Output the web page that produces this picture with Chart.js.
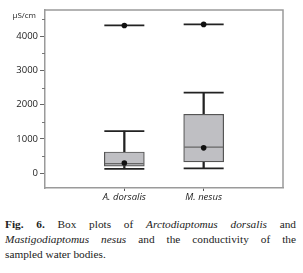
<!DOCTYPE html>
<html><head><meta charset="utf-8">
<script src="https://cdn.jsdelivr.net/npm/chart.js@4"></script>
<style>
html,body{margin:0;padding:0;background:#fff;width:303px;height:273px;overflow:hidden}
#wrap{position:absolute;left:0;top:0;width:303px;height:205px}
#cap{position:absolute;left:5px;top:217px;width:291px;font-family:"Liberation Serif","Times New Roman",serif;font-size:11.3px;line-height:15px;color:#222}
.j{text-align:justify;text-align-last:justify}
</style></head><body>
<div id="wrap"><canvas id="c" width="303" height="205"></canvas></div>
<div id="cap">
<div class="j"><b>Fig. 6.</b> Box plots of <i>Arctodiaptomus dorsalis</i> and</div>
<div class="j"><i>Mastigodiaptomus nesus</i> and the conductivity of the</div>
<div>sampled water bodies.</div>
</div>
<script>
const categories = ['A. dorsalis', 'M. nesus'];
const lowerWhisker = [130, 140];
const q1 = [210, 330];
const median = [280, 760];
const q3 = [620, 1720];
const upperWhisker = [1230, 2350];
const mean = [300, 740];
const outliers = [4310, 4340];
const yTickValues = [0, 1000, 2000, 3000, 4000];
const yMinorTicks = [500, 1500, 2500, 3500, 4500];
const yUnit = 'µS/cm';

const pos = categories.map((_, i) => i + 1);

const framePlugin = {
  id: 'frame',
  afterDraw(chart) {
    const ctx = chart.ctx, a = chart.chartArea, ys = chart.scales.y;
    ctx.save();
    ctx.strokeStyle = '#9a9a9a';
    ctx.lineWidth = 1.5;
    ctx.beginPath();
    ctx.moveTo(a.left, a.top);
    ctx.lineTo(a.right, a.top);
    ctx.lineTo(a.right, a.bottom);
    ctx.stroke();
    ctx.strokeStyle = '#777';
    ctx.lineWidth = 1;
    yMinorTicks.forEach(v => {
      const y = Math.round(ys.getPixelForValue(v)) + 0.5;
      ctx.beginPath();
      ctx.moveTo(a.left - 3, y);
      ctx.lineTo(a.left, y);
      ctx.stroke();
    });
    ctx.fillStyle = '#222';
    ctx.font = '8px "Open Sans"';
    ctx.textAlign = 'right';
    ctx.textBaseline = 'middle';
    ctx.fillText(yUnit, a.left - 9, a.top + 6);
    ctx.restore();
  }
};

new Chart(document.getElementById('c'), {
  type: 'bar',
  data: {
    datasets: [
      {
        label: 'upper whisker',
        data: pos.map((x, i) => ({x, y: [q3[i], upperWhisker[i]]})),
        backgroundColor: '#222', barThickness: 1.6, grouped: false, order: 6
      },
      {
        label: 'lower whisker',
        data: pos.map((x, i) => ({x, y: [lowerWhisker[i], q1[i]]})),
        backgroundColor: '#222', barThickness: 1.6, grouped: false, order: 6
      },
      {
        label: 'box',
        data: pos.map((x, i) => ({x, y: [q1[i], q3[i]]})),
        backgroundColor: '#bfbfc3', borderColor: '#555', borderWidth: 1.2,
        borderSkipped: false, barThickness: 40, grouped: false, order: 5
      },
      {
        type: 'line', label: 'caps', showLine: false,
        data: pos.flatMap((x, i) => [{x, y: upperWhisker[i]}, {x, y: lowerWhisker[i]}, {x, y: outliers[i]}]),
        pointStyle: 'line', pointRadius: 20, pointBorderWidth: 1.8,
        borderColor: '#222', backgroundColor: '#222', order: 4
      },
      {
        type: 'line', label: 'median', showLine: false,
        data: pos.map((x, i) => ({x, y: median[i]})),
        pointStyle: 'line', pointRadius: 19.5, pointBorderWidth: 1.3,
        borderColor: '#666', backgroundColor: '#666', order: 3
      },
      {
        type: 'line', label: 'dots', showLine: false,
        data: pos.flatMap((x, i) => [{x, y: mean[i]}, {x, y: outliers[i]}]),
        pointStyle: 'circle', pointRadius: 2.8, pointBorderWidth: 0,
        borderColor: '#111', backgroundColor: '#111', order: 1
      }
    ]
  },
  options: {
    responsive: false,
    animation: false,
    events: [],
    layout: {autoPadding: false, padding: {top: 10, right: 20, left: 0, bottom: 0}},
    plugins: {legend: {display: false}, tooltip: {enabled: false}},
    scales: {
      x: {
        type: 'linear', min: 0, max: categories.length + 1, offset: false,
        afterBuildTicks: s => { s.ticks = pos.map(v => ({value: v})); },
        afterFit: s => { s.height = 17; s.paddingLeft = 0; s.paddingRight = 0; },
        ticks: {
          callback: v => categories[v - 1],
          font: {family: '"Open Sans"', size: 9.5, style: 'italic'},
          color: '#222', padding: 1, maxRotation: 0, autoSkip: false
        },
        grid: {offset: false, drawOnChartArea: false, drawTicks: true, tickLength: 3, color: '#555'},
        border: {color: '#9a9a9a', width: 1.5}
      },
      y: {
        min: -430, max: 4760,
        afterBuildTicks: s => { s.ticks = yTickValues.map(v => ({value: v})); },
        afterFit: s => { s.width = 45; s.paddingTop = 0; s.paddingBottom = 0; },
        ticks: {
          callback: v => String(v),
          font: {family: '"Open Sans"', size: 9.5},
          color: '#222', padding: 2
        },
        grid: {drawOnChartArea: false, drawTicks: true, tickLength: 5, color: '#666'},
        border: {color: '#9a9a9a', width: 1.5}
      }
    }
  },
  plugins: [framePlugin]
});
</script>
</body></html>
